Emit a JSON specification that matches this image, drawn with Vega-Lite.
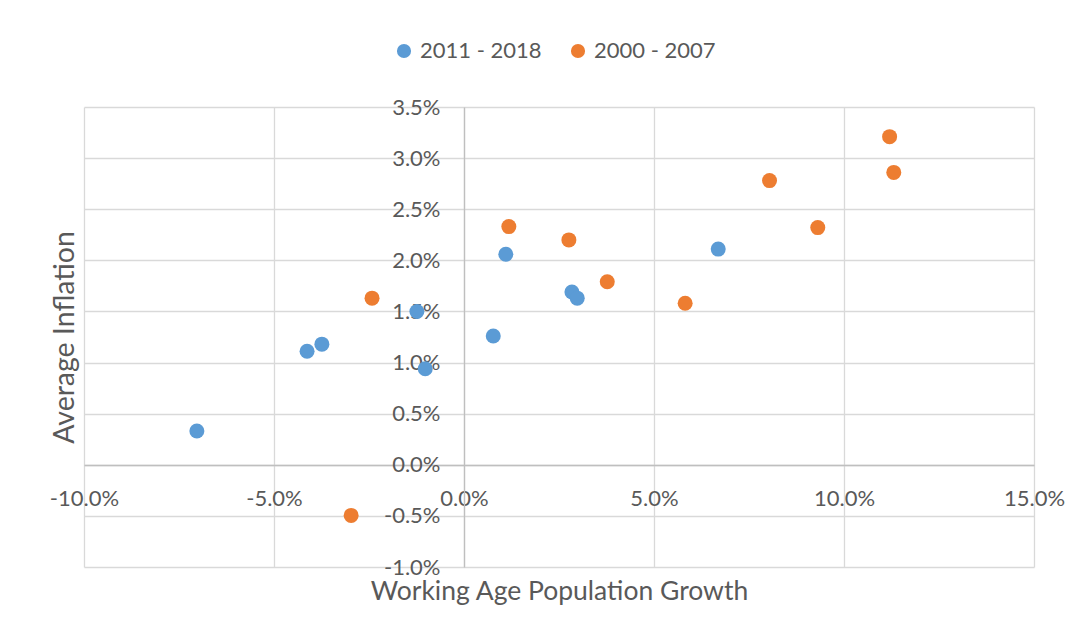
{
  "$schema": "https://vega.github.io/schema/vega-lite/v6.json",
  "width": 950,
  "height": 460,
  "autosize": {"type": "none"},
  "padding": {"left": 84, "top": 107, "right": 54, "bottom": 75},
  "background": "white",
  "config": {
    "font": "Lato",
    "view": {"stroke": null},
    "axis": {
      "labelColor": "#595959",
      "titleColor": "#595959",
      "labelFont": "Lato",
      "titleFont": "Lato",
      "labelFontSize": 22,
      "titleFontWeight": "normal",
      "gridColor": "#D9D9D9",
      "gridWidth": 1.3,
      "domainColor": "#BFBFBF",
      "domainWidth": 1.3,
      "ticks": false,
      "tickSize": 0
    },
    "legend": {
      "labelColor": "#595959",
      "labelFont": "Lato",
      "labelFontSize": 22
    }
  },
  "data": {
    "values": [
      {"period": "2011 - 2018", "growth": -0.0703, "inflation": 0.0033},
      {"period": "2011 - 2018", "growth": -0.0413, "inflation": 0.0111},
      {"period": "2011 - 2018", "growth": -0.0374, "inflation": 0.0118},
      {"period": "2011 - 2018", "growth": -0.0124, "inflation": 0.0150},
      {"period": "2011 - 2018", "growth": -0.0102, "inflation": 0.0094},
      {"period": "2011 - 2018", "growth": 0.0077, "inflation": 0.0126},
      {"period": "2011 - 2018", "growth": 0.0110, "inflation": 0.0206},
      {"period": "2011 - 2018", "growth": 0.0284, "inflation": 0.0169},
      {"period": "2011 - 2018", "growth": 0.0298, "inflation": 0.0163},
      {"period": "2011 - 2018", "growth": 0.0669, "inflation": 0.0211},
      {"period": "2000 - 2007", "growth": -0.0297, "inflation": -0.00495},
      {"period": "2000 - 2007", "growth": -0.0242, "inflation": 0.0163},
      {"period": "2000 - 2007", "growth": 0.0118, "inflation": 0.0233},
      {"period": "2000 - 2007", "growth": 0.0276, "inflation": 0.0220},
      {"period": "2000 - 2007", "growth": 0.0377, "inflation": 0.0179},
      {"period": "2000 - 2007", "growth": 0.0582, "inflation": 0.0158},
      {"period": "2000 - 2007", "growth": 0.0804, "inflation": 0.0278},
      {"period": "2000 - 2007", "growth": 0.0931, "inflation": 0.0232},
      {"period": "2000 - 2007", "growth": 0.1120, "inflation": 0.0321},
      {"period": "2000 - 2007", "growth": 0.1131, "inflation": 0.0286}
    ]
  },
  "mark": {"type": "circle", "size": 225, "opacity": 1},
  "encoding": {
    "x": {
      "field": "growth",
      "type": "quantitative",
      "scale": {"domain": [-0.10, 0.15], "nice": false, "zero": false},
      "axis": {
        "title": "Working Age Population Growth",
        "titleFontSize": 26.5,
        "values": [-0.10, -0.05, 0, 0.05, 0.10, 0.15],
        "labelExpr": "replace(format(datum.value, '.1%'), '\u2212', '-')",
        "offset": -102,
        "labelPadding": 23,
        "labelFlush": false,
        "labelOverlap": false,
        "titleY": 126,
        "titleBaseline": "middle"
      }
    },
    "y": {
      "field": "inflation",
      "type": "quantitative",
      "scale": {"domain": [-0.01, 0.035], "nice": false, "zero": false},
      "axis": {
        "title": "Average Inflation",
        "titleFontSize": 28.5,
        "values": [-0.01, -0.005, 0, 0.005, 0.01, 0.015, 0.02, 0.025, 0.03, 0.035],
        "labelExpr": "replace(format(datum.value, '.1%'), '\u2212', '-')",
        "offset": -380,
        "labelPadding": 24,
        "labelFlush": false,
        "labelOverlap": false,
        "titleX": -400,
        "titleBaseline": "middle"
      }
    },
    "color": {
      "field": "period",
      "type": "nominal",
      "scale": {"domain": ["2011 - 2018", "2000 - 2007"], "range": ["#5B9BD5", "#ED7D31"]},
      "legend": {
        "title": null,
        "orient": "none",
        "direction": "horizontal",
        "legendX": 309,
        "legendY": -67,
        "padding": 0,
        "symbolType": "circle",
        "symbolSize": 200,
        "symbolStrokeWidth": 0,
        "labelOffset": 5,
        "columnPadding": 25
      }
    }
  }
}
